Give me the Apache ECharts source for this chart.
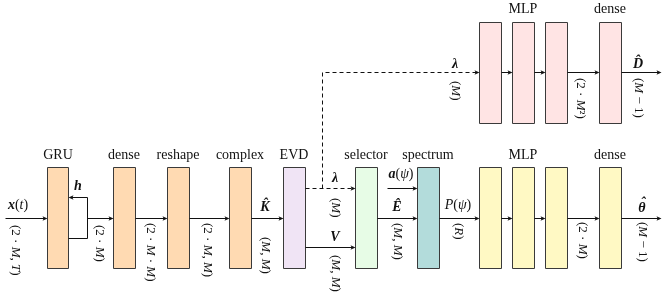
<!DOCTYPE html>
<html><head><meta charset="utf-8">
<script src="https://cdn.jsdelivr.net/npm/echarts@6/dist/echarts.min.js"></script>
<style>html,body{margin:0;padding:0;background:#fff}#c{width:662px;height:301px}</style>
</head><body><div id="c"></div>
<script>
const FONT = "'Liberation Serif', 'DejaVu Serif', serif";

// Blocks of the network: [x0, y0, x1, y1, group]
const blocks = [
  [47,167,68,268,'prep'], [113,167,135,268,'prep'], [167,167,189,268,'prep'], [229,167,251,268,'prep'],
  [283,167,305,268,'evd'], [355,167,377,268,'sel'], [417,167,439,268,'spec'],
  [479,167,501,268,'mlpA'], [512,167,534,268,'mlpA'], [545,167,567,268,'mlpA'], [599,167,621,268,'mlpA'],
  [479,22,501,123,'mlpB'], [512,22,534,123,'mlpB'], [545,22,567,123,'mlpB'], [599,22,621,123,'mlpB']
];
const groupFill = {prep:'#ffdab2', evd:'#f0e4f5', sel:'#e7fce6', spec:'#b3dcdb', mlpA:'#fff9c4', mlpB:'#ffe4e4'};

// Block titles: [cx, cy, text]
const titles = [
  [58,155,'GRU'], [124,155,'dense'], [178,155,'reshape'], [240,155,'complex'], [294,155,'EVD'],
  [366,155,'selector'], [428,155,'spectrum'], [523,155,'MLP'], [610,155,'dense'],
  [523,9,'MLP'], [610,9,'dense']
];

// Connections: points, dashed?, arrowhead?
const arrows = [
  [[[5,218],[47,218]], false, true],
  [[[68,238],[87,238],[87,197],[68,197]], false, true],
  [[[87,218],[113,218]], false, true],
  [[[135,218],[167,218]], false, true],
  [[[189,218],[229,218]], false, true],
  [[[251,218],[283,218]], false, true],
  [[[305,188],[355,188]], true, true],
  [[[322,188],[322,72],[479,72]], true, true],
  [[[305,247],[355,247]], false, true],
  [[[377,218],[417,218]], false, true],
  [[[387,188],[417,188]], false, true],
  [[[439,218],[479,218]], false, true],
  [[[501,218],[512,218]], false, true],
  [[[534,218],[545,218]], false, true],
  [[[567,218],[599,218]], false, true],
  [[[621,218],[661,218]], false, true],
  [[[501,72],[512,72]], false, true],
  [[[534,72],[545,72]], false, true],
  [[[567,72],[599,72]], false, true],
  [[[621,72],[661,72]], false, true]
];

// Symbols above the arrows: [cx, cy, rich text]
const symbols = [
  [18,205,'{b|x}({i|t})'], [78,186,'{b|h}'], [265,207,'{b|K\u0302}'], [335,178,'{b|λ}'],
  [335,237,'{b|V}'], [401,174,'{b|a}({i|ψ})'], [397,207,'{b|E\u0302}'], [458,205,'{i|P}({i|ψ})'],
  [642,208,'{b|θ}'], [643,203,'{b|ˆ}'], [455,64,'{b|λ}'], [638,64,'{b|D\u0302}']
];

// Dimension labels (rotated): [cx, topY, rich text]
const dims = [
  [15,225,'(2 · {i|M}, {i|T})'], [99,225,'(2 · {i|M})'], [150,223,'(2 · {i|M} · {i|M})'],
  [207,223,'(2 · {i|M}, {i|M})'], [265,237,'({i|M}, {i|M})'], [335,198,'({i|M})'],
  [335,255,'({i|M}, {i|M})'], [397,223,'({i|M}, {i|M})'], [458,223,'({i|R})'],
  [582,222,'(2 · {i|M})'], [642,222,'({i|M} − 1)'],
  [455,81,'({i|M})'], [580,78,'(2 · {i|M}²)'], [638,78,'({i|M} − 1)']
];

function rich(fs) {
  return {
    i: {fontStyle:'italic', fontFamily:FONT, fontSize:fs, fill:'#111'},
    b: {fontStyle:'italic', fontWeight:'bold', fontFamily:FONT, fontSize:fs, fill:'#111'}
  };
}

const chart = echarts.init(document.getElementById('c'), null, {renderer:'canvas'});
chart.setOption({
  animation:false,
  backgroundColor:'#fff',
  grid:{left:0,right:0,top:0,bottom:0},
  xAxis:{type:'value',min:0,max:662,show:false},
  yAxis:{type:'value',min:0,max:301,inverse:true,show:false},
  series:[
    {
      type:'custom', coordinateSystem:'cartesian2d', silent:true,
      data: blocks.map(b => [b[0], b[1]]),
      renderItem(params, api) {
        const b = blocks[params.dataIndex];
        const p0 = api.coord([b[0], b[1]]), p1 = api.coord([b[2], b[3]]);
        return {type:'rect', shape:{x:Math.round(p0[0])+0.5, y:Math.round(p0[1])+0.5,
          width:Math.round(p1[0]-p0[0]), height:Math.round(p1[1]-p0[1])},
          style:{fill:groupFill[b[4]], stroke:'#3a3a3a', lineWidth:1}};
      }
    },
    {
      type:'custom', coordinateSystem:'cartesian2d', silent:true,
      data: arrows.map(a => a[0][0]),
      renderItem(params, api) {
        const a = arrows[params.dataIndex];
        const pts = a[0].map(p => { const c = api.coord(p); return [Math.round(c[0])+0.5, Math.round(c[1])+0.5]; });
        const n = pts.length;
        const end = pts[n-1], prev = pts[n-2];
        const dx = end[0]-prev[0], dy = end[1]-prev[1];
        const len = Math.hypot(dx, dy), ux = dx/len, uy = dy/len;
        const L = 5, W = 2.3;
        const base = [end[0]-ux*L, end[1]-uy*L];
        const linePts = pts.slice(0, n-1).concat([a[2] ? [end[0]-ux*2, end[1]-uy*2] : end]);
        const children = [{type:'polyline', shape:{points:linePts},
          style:{stroke:'#111', lineWidth:1, fill:null, lineDash: a[1] ? [4,3] : null}}];
        if (a[2]) {
          children.push({type:'polygon', shape:{points:[end,
            [base[0]-uy*W, base[1]+ux*W], [base[0]+ux*1.2, base[1]+uy*1.2], [base[0]+uy*W, base[1]-ux*W]]},
            style:{fill:'#111', stroke:null}});
        }
        return {type:'group', children};
      }
    },
    {
      type:'custom', coordinateSystem:'cartesian2d', silent:true,
      data: titles.map(t => [t[0], t[1]]),
      renderItem(params, api) {
        const t = titles[params.dataIndex];
        const c = api.coord([t[0], t[1]]);
        return {type:'text', x:c[0], y:c[1], style:{text:t[2], fontFamily:FONT, fontSize:14,
          fill:'#111', align:'center', verticalAlign:'middle'}};
      }
    },
    {
      type:'custom', coordinateSystem:'cartesian2d', silent:true,
      data: symbols.map(t => [t[0], t[1]]),
      renderItem(params, api) {
        const t = symbols[params.dataIndex];
        const c = api.coord([t[0], t[1]]);
        return {type:'text', x:c[0], y:c[1], style:{text:t[2], rich:rich(14), fontFamily:FONT, fontSize:14,
          fill:'#111', align:'center', verticalAlign:'middle'}};
      }
    },
    {
      type:'custom', coordinateSystem:'cartesian2d', silent:true,
      data: dims.map(t => [t[0], t[1]]),
      renderItem(params, api) {
        const t = dims[params.dataIndex];
        const c = api.coord([t[0], t[1]]);
        return {type:'text', x:c[0], y:c[1], rotation:-Math.PI/2,
          style:{text:t[2], rich:rich(13), fontFamily:FONT, fontSize:13,
          fill:'#111', align:'left', verticalAlign:'middle'}};
      }
    }
  ]
});
</script></body></html>
